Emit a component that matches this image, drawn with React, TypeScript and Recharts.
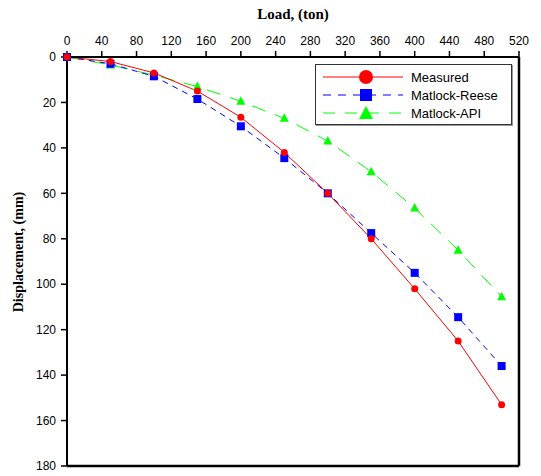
import React from 'react';
import { LineChart, Line, XAxis, YAxis, ReferenceLine } from 'recharts';

const loads = [0, 50, 100, 150, 200, 250, 300, 350, 400, 450, 500];
const measured = [0, 2, 7, 15, 26.5, 42, 60, 80, 102, 125, 153];
const matlockReese = [0, 3, 8.5, 18.5, 30.5, 44.5, 60, 77.5, 95, 114.5, 136];
const matlockApi = [0, 3.5, 8, 13, 19.5, 27, 37, 50.5, 66.5, 85, 105.5];
const xTicks = [0, 40, 80, 120, 160, 200, 240, 280, 320, 360, 400, 440, 480, 520];
const yTicks = [0, 20, 40, 60, 80, 100, 120, 140, 160, 180];

const data = loads.map((load, i) => ({
    load,
    measured: measured[i],
    reese: matlockReese[i],
    api: matlockApi[i],
}));

const tickFont = { fontFamily: 'Liberation Sans, Arial, sans-serif', fontSize: 12, fill: '#000' };

const SquareDot = (props: any) => {
    const { cx, cy, index } = props;
    return <rect key={`sq-${index}`} x={cx - 4} y={cy - 4} width={8} height={8} fill="#0000FF" />;
};

const TriangleDot = (props: any) => {
    const { cx, cy, index } = props;
    return <path key={`tr-${index}`} d={`M${cx},${cy - 5} L${cx + 4.5},${cy + 3.5} L${cx - 4.5},${cy + 3.5} Z`} fill="#00FF00" />;
};

const legendRows = [
    { name: 'Measured', color: '#FF0000', dash: undefined, shape: 'circle' },
    { name: 'Matlock-Reese', color: '#0000FF', dash: '8 7', shape: 'square' },
    { name: 'Matlock-API', color: '#00FF00', dash: '12 10', shape: 'triangle' },
];

const LegendBox = () => (
    <div style={{ position: 'absolute', left: 315, top: 64, width: 195, height: 59, border: '1px solid #333', background: '#fff', boxShadow: '1px 1px 0 #999' }}>
        {legendRows.map((r, i) => (
            <div key={r.name} style={{ position: 'absolute', top: 3 + i * 18, left: 0, height: 18, display: 'flex', alignItems: 'center' }}>
                <svg width={92} height={18}>
                    <line x1={7} y1={9} x2={87} y2={9} stroke={r.color} strokeWidth={1} strokeDasharray={r.dash} />
                    {r.shape === 'circle' && <circle cx={50} cy={9} r={7} fill={r.color} />}
                    {r.shape === 'square' && <rect x={44} y={3} width={12} height={12} fill={r.color} />}
                    {r.shape === 'triangle' && <path d="M50,2 L57,15 L43,15 Z" fill={r.color} />}
                </svg>
                <span style={{ fontFamily: 'Liberation Sans, Arial, sans-serif', fontSize: 13, marginLeft: 3 }}>{r.name}</span>
            </div>
        ))}
    </div>
);

export default function App() {
    return (
        <div style={{ position: 'absolute', left: 0, top: 0, width: 541, height: 476, background: '#fff' }}>
            <LineChart width={541} height={476} data={data} margin={{ top: 27, right: 22, bottom: 10, left: 27 }}>
                <XAxis
                    dataKey="load"
                    type="number"
                    orientation="top"
                    domain={[0, 520]}
                    ticks={xTicks}
                    height={30}
                    tick={tickFont}
                    tickSize={6}
                    tickMargin={6}
                    axisLine={{ stroke: '#000', strokeWidth: 2 }}
                    tickLine={{ stroke: '#000', strokeWidth: 1.5 }}
                    label={({ viewBox }: any) => (
                        <text x={viewBox.x + viewBox.width / 2} y={19} textAnchor="middle"
                            style={{ fontFamily: 'Liberation Serif, Times New Roman, serif', fontWeight: 'bold', fontSize: 15 }}>
                            Load, (ton)
                        </text>
                    )}
                />
                <YAxis
                    type="number"
                    reversed
                    domain={[0, 180]}
                    ticks={yTicks}
                    width={40}
                    tick={tickFont}
                    tickSize={6}
                    tickMargin={5}
                    axisLine={{ stroke: '#000', strokeWidth: 2 }}
                    tickLine={{ stroke: '#000', strokeWidth: 1.5 }}
                    label={() => (
                        <text x={23} y={252} textAnchor="middle" transform="rotate(-90 23 252)"
                            style={{ fontFamily: 'Liberation Serif, Times New Roman, serif', fontWeight: 'bold', fontSize: 14 }}>
                            Displacement, (mm)
                        </text>
                    )}
                />
                <ReferenceLine x={520} stroke="#000" strokeWidth={2.5} ifOverflow="visible" />
                <ReferenceLine y={180} stroke="#000" strokeWidth={2.5} ifOverflow="visible" />
                <Line dataKey="api" stroke="#00FF00" strokeWidth={1} strokeDasharray="14 10" dot={<TriangleDot />} isAnimationActive={false} />
                <Line dataKey="reese" stroke="#0000FF" strokeWidth={1} strokeDasharray="6 5" dot={<SquareDot />} isAnimationActive={false} />
                <Line dataKey="measured" stroke="#FF0000" strokeWidth={1} dot={{ r: 3.5, fill: '#FF0000', stroke: '#FF0000', strokeWidth: 0 }} isAnimationActive={false} />
            </LineChart>
            <LegendBox />
        </div>
    );
}
